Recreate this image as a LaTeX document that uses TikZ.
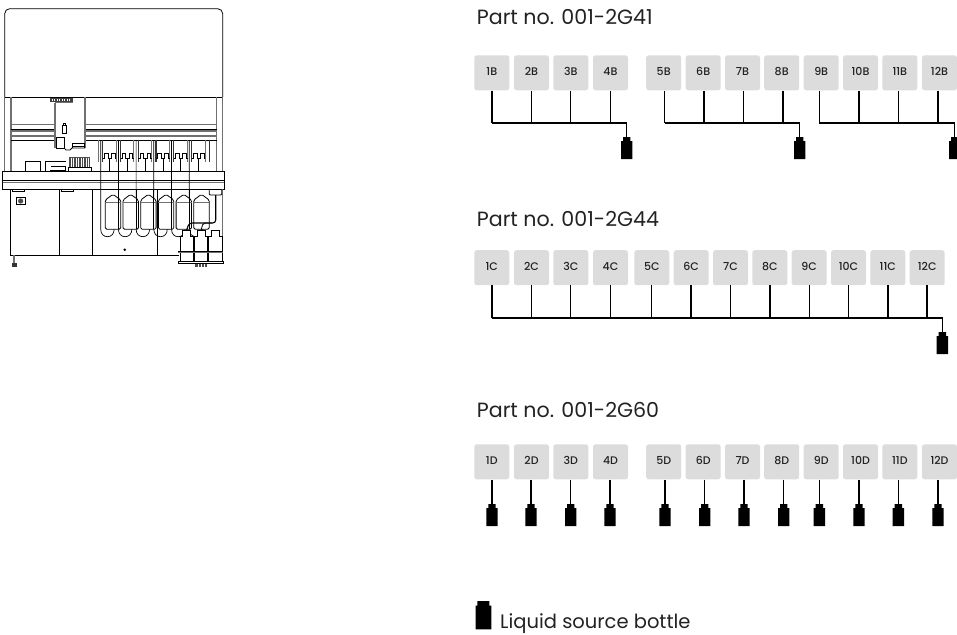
\documentclass[tikz,border=0pt]{standalone}
\usepackage{fontspec}
\setmainfont{Poppins}
\newfontfamily\labelfont{Poppins}[UprightFont=* Medium]
\definecolor{boxgray}{HTML}{DCDCDC}
\definecolor{ink}{HTML}{222222}
\definecolor{midg}{HTML}{707070}
\tikzset{
  tubebox/.style={draw=none,fill=boxgray,rounded corners=2.5pt,minimum width=35pt,minimum height=35pt,inner sep=0pt,text=ink,font=\labelfont\fontsize{11}{12}\selectfont},
  tube/.style={line width=1.4pt,black},
  title/.style={anchor=base west,inner sep=0pt,text=ink,font=\fontsize{20.6}{24}\selectfont},
  legendtext/.style={anchor=base west,inner sep=0pt,text=ink,font=\fontsize{19.5}{24}\selectfont},
  dev/.style={line width=.8pt,black},
  devg/.style={line width=1.1pt,midg},
  bottle/.pic={\fill[black] (-3.7,0) -- (3.7,0) -- (3.7,4) -- (5.7,4) -- (5.7,22) -- (-5.7,22) -- (-5.7,4) -- (-3.7,4) -- cycle;}
}
\newcommand{\boxlabel}[1]{\raisebox{2pt}{#1}}
\begin{document}
\begin{tikzpicture}[x=1pt,y=-1pt]
\clip (0,0) rectangle (957,634);
% ---------- instrument ----------
\draw[dev,rounded corners=5pt] (4.7,97) -- (4.7,8.7) -- (222.7,8.7) -- (222.7,97);
\draw[dev] (4.7,97) -- (222.7,97);
\draw[devg] (4.7,97) -- (4.7,171.7) (222.7,97) -- (222.7,171.7);
\draw[devg] (11,97) -- (11,171.7) (216.7,97) -- (216.7,171.7);
% rails
\foreach \a/\b in {11/55,85/216.7}{
  \draw[devg] (\a,124.3) -- (\b,124.3) (\a,131) -- (\b,131) (\a,136) -- (\b,136);
  \draw[dev] (\a,129.3) -- (\b,129.3) (\a,140) -- (\b,140);
}
% carriage
\fill[black!75] (50,97.7) rectangle (73,101.7);
\foreach \x in {52,54.5,...,71}{\draw[white,line width=.4pt] (\x,98.5) -- (\x,100.5);}
\draw[devg] (55,102.5) -- (73,102.5) (55,102.5) -- (55,148) (85,97) -- (85,148);
\draw[dev] (56.7,148) -- (56.7,137.3) -- (64.3,137.3) -- (64.3,148) -- cycle;
\draw[dev] (64.3,148) -- (66,150) -- (70,150) -- (72,148) -- (85,148);
\draw[dev] (72,148) -- (72,143.3) -- (84,143.3) -- (84,148) (72,146) -- (84,146);
\draw[dev] (62.3,133.3) rectangle (66.7,125) (63.6,125) -- (63.6,123) -- (65.4,123) -- (65.4,125);
% manifold
\foreach \i in {0,...,6}{
  \pgfmathsetmacro{\xa}{98.3+17.8*\i}
  \pgfmathsetmacro{\xb}{102.6+17.8*\i}
  \draw[devg] (\xa,139.5) -- (\xa,161.7);
  \draw[line width=1.3pt,black!80] (\xb,139.5) -- (\xb,161.7);
}
\foreach \i in {0,...,5}{
  \pgfmathsetmacro{\xx}{102.8+17.8*\i}
  \pgfmathsetmacro{\xc}{\xx+6.8}
  \draw[dev,line width=.6pt] (\xx,158) -- ++(1.5,0) -- ++(0,-4.5) -- ++(3.5,0) -- ++(0,4.5) -- ++(3.5,0) -- ++(0,-4.5) -- ++(3.5,0) -- ++(0,4.5) -- ++(1.5,0);
  \draw[dev,line width=.7pt] (\xc,158) -- (\xc,171.7);
}
% deck
\draw[dev] (2.7,171.7) rectangle (224,189.3);
\draw[dev] (2.7,180) -- (224,180);
\draw[devg,line width=.7pt] (2.7,182) -- (224,182);
\draw[dev] (25.3,171.7) -- (25.3,161.7) -- (40.7,161.7) -- (40.7,171.7);
\draw[dev] (45.7,171.7) -- (45.7,161.7) -- (65.7,161.7) (50,171.7) -- (50,170) -- (65.7,170) -- (65.7,166) -- (51,166);
\fill[black!70] (69,156.7) rectangle (90,167.7);
\foreach \x in {71,73.5,...,89}{\draw[white,line width=.5pt] (\x,158) -- (\x,166.5);}
\draw[dev] (68.3,171.7) -- (68.3,167.7) -- (91,167.7) -- (91,171.7);
% cabinet
\draw[dev] (10.3,189.3) -- (10.3,255) -- (179,255);
\draw[dev] (59,189.3) -- (59,255) (92.3,189.3) -- (92.3,255);
\draw[devg] (222.7,189.3) -- (222.7,251);
\draw[dev] (12.7,189.3) -- (12.7,191.7) -- (24.7,191.7) -- (24.7,189.3);
\draw[dev] (61.7,189.3) -- (61.7,191.7) -- (73.3,191.7) -- (73.3,189.3);
\draw[dev] (16.3,197.3) rectangle (25,204.7);
\fill[black!70] (20.65,201) circle (2.6);
\fill[black] (124.7,249.7) circle (1.4);
\draw[devg] (14,255) -- (14,263);
\fill[black!80] (12,263) rectangle (17.3,267);
% tubes under the bottles
\foreach \i in {0,...,5}{
  \pgfmathsetmacro{\xt}{100.7+17.7*\i}
  \pgfmathsetmacro{\xe}{\xt+13.5}
  \draw[dev,line width=.7pt] (\xt,140) -- (\xt,229) .. controls (\xt,234) and (\xt+3,236.7) .. (\xt+6.7,236.7) .. controls (\xt+10.5,236.7) and (\xe,234) .. (\xe,229);
}
% reagent bottles
\foreach \i in {0,...,5}{
  \pgfmathsetmacro{\xl}{105.3+17.7*\i}
  \pgfmathsetmacro{\xr}{\xl+15.4}
  \pgfmathsetmacro{\xm}{\xl+7.7}
  \filldraw[dev,fill=white,rounded corners=1.5pt] (\xl,200) -- (\xm,194.3) -- (\xr,200) -- (\xr,229.3) -- (\xl,229.3) -- cycle;
  \draw[devg,line width=.7pt] (\xl,202.7) -- (\xr,202.7);
}
% verticals that pass in front
\foreach \i in {0,...,4}{
  \pgfmathsetmacro{\xt}{118.4+17.7*\i}
  \draw[dev,line width=.7pt] (\xt,189.3) -- (\xt,229);
}
\draw[line width=1pt,black] (157.3,189.3) -- (157.3,255);
% waste box and its tubes
\draw[dev,rounded corners=1pt] (209.3,189.3) -- (209.3,195) -- (221.7,195) -- (221.7,189.3);
\draw[line width=1.1pt,black,rounded corners=3pt] (215.7,195) -- (215.7,223) -- (189,223) -- (186.5,230.7);
\draw[dev,rounded corners=2pt] (212,223) -- (203,223) -- (201,230.7);
% large bottles
\foreach \a/\b/\c/\d in {180/193.3/182.7/190.7,194.3/207.3/197/205,208.3/222/211/219.3}{
  \filldraw[dev,fill=white] (\c,236.7) -- (\c,230.7) -- (\d,230.7) -- (\d,236.7) -- (\b,236.7) -- (\b,261.7) -- (\a,261.7) -- (\a,236.7) -- cycle;
}
\draw[dev,line width=1pt] (178.3,251) -- (223.3,251);
\draw[devg,line width=.7pt] (178.3,252.8) -- (223.3,252.8);
\draw[dev] (178.3,261) rectangle (223.3,263.3);
\fill[black!70] (195,264) rectangle (206.7,266.5);
\foreach \x in {198,201,204}{\draw[white,line width=.5pt] (\x,264) -- (\x,266.5);}
% ---------- titles ----------
\node[title] (t1) at (476.7,25) {Part no. 001-2G41};
\node[title] (t2) at (476.7,226) {Part no. 001-2G44};
\node[title] (t3) at (476.7,417) {Part no. 001-2G60};
% ---------- row B ----------
\foreach \i/\cx/\lx in {1/491.8/492,2/531.5/531.3,3/570.8/570.7,4/610.5/610.3,5/663.7/664.7,6/703.2/704,7/742.5/743.7,8/781.7/783,9/821.2/819.3,10/860.5/859,11/899.8/898.3,12/939.5/938}{
  \node[tubebox] (b\i) at (\cx,72.8) {\boxlabel{\i B}};
  \coordinate (bj\i) at (\lx,123);
  \draw[tube] (b\i.south -| bj\i) -- (bj\i);
}
\coordinate (bb1) at (626.7,137);
\coordinate (bb2) at (799.7,137);
\coordinate (bb3) at (954.7,137);
\draw[tube] (bj1) -- (bj1 -| bb1) -- (bb1);
\draw[tube] (bj5) -- (bj5 -| bb2) -- (bb2);
\draw[tube] (bj9) -- (bj9 -| bb3) -- (bb3);
\pic at (bb1) {bottle};
\pic at (bb2) {bottle};
\pic at (bb3) {bottle};
% ---------- row C ----------
\foreach \i/\cx/\lx in {1/491.8/492,2/531.5/531.3,3/570.8/570.7,4/610.5/610.3,5/651.8/651.7,6/691.2/691,7/730.5/730.7,8/769.8/770,9/809.2/809.3,10/848.5/848.7,11/887.8/888,12/927.2/927}{
  \node[tubebox] (c\i) at (\cx,267.7) {\boxlabel{\i C}};
  \coordinate (cj\i) at (\lx,318);
  \draw[tube] (c\i.south -| cj\i) -- (cj\i);
}
\coordinate (cb1) at (942.4,332);
\draw[tube] (cj1) -- (cj1 -| cb1) -- (cb1);
\pic at (cb1) {bottle};
% ---------- row D ----------
\foreach \i/\cx/\lx in {1/491.8/492,2/531.5/531,3/570.8/570.7,4/610.5/610,5/663.7/665,6/703.2/704.7,7/742.5/744,8/781.7/783.7,9/821.2/819.3,10/860.5/859,11/899.8/898.3,12/939.5/938}{
  \node[tubebox] (d\i) at (\cx,461.8) {\boxlabel{\i D}};
  \coordinate (db\i) at (\lx,504);
  \draw[tube] (d\i.south -| db\i) -- (db\i);
  \pic at (db\i) {bottle};
}
% ---------- legend ----------
\fill[black] (477.3,601) -- (489.3,601) -- (489.3,605.7) -- (491.3,605.7) -- (491.3,629.3) -- (475.7,629.3) -- (475.7,605.7) -- (477.3,605.7) -- cycle;
\node[legendtext] (lg) at (500,628) {Liquid source bottle};
\end{tikzpicture}
\end{document}
